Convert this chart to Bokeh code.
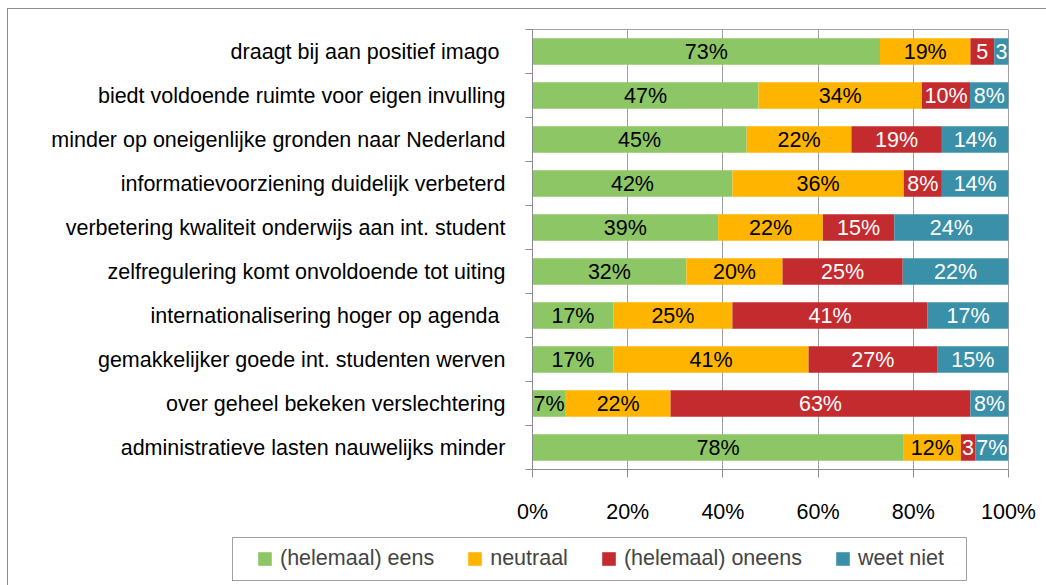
from bokeh.plotting import figure
from bokeh.layouts import column
from bokeh.models import (ColumnDataSource, Range1d, FixedTicker, Legend, LegendItem,
                          LabelSet)
from bokeh.core.properties import value
from bokeh.embed import file_html
from bokeh.resources import INLINE

categories = [
    "draagt bij aan positief imago ",
    "biedt voldoende ruimte voor eigen invulling",
    "minder op oneigenlijke gronden naar Nederland",
    "informatievoorziening duidelijk verbeterd",
    "verbetering kwaliteit onderwijs aan int. student",
    "zelfregulering komt onvoldoende tot uiting",
    "internationalisering hoger op agenda ",
    "gemakkelijker goede int. studenten werven",
    "over geheel bekeken verslechtering",
    "administratieve lasten nauwelijks minder",
]
series = ["(helemaal) eens", "neutraal", "(helemaal) oneens", "weet niet"]
eens = [73, 47, 45, 42, 39, 32, 17, 17, 7, 78]
neutraal = [19, 34, 22, 36, 22, 20, 25, 41, 22, 12]
oneens = [5, 10, 19, 8, 15, 25, 41, 27, 63, 3]
weet_niet = [3, 8, 14, 14, 24, 22, 17, 15, 8, 7]
x_ticks = [0, 20, 40, 60, 80, 100]

colors = ["#8DC665", "#FFB400", "#C42B2F", "#3A90A8"]
label_colors = ["black", "black", "white", "white"]
FONT = "Liberation Sans"
FS = "21.5px"
GRAY = "#8C8C8C"

n = len(categories)
ys = [n - i - 0.5 for i in range(n)]
vals = [eens, neutraal, oneens, weet_niet]
totals = [sum(v[i] for v in vals) for i in range(n)]

data = {"y": ys}
cum = [0.0] * n
for j, v in enumerate(vals):
    left = [cum[i] for i in range(n)]
    right = [cum[i] + 100.0 * v[i] / totals[i] for i in range(n)]
    data[f"l{j}"] = left
    data[f"r{j}"] = right
    data[f"m{j}"] = [(a + b) / 2 for a, b in zip(left, right)]
    data[f"t{j}"] = [f"{x}%" if x > 5 else f"{x}" for x in v]
    cum = right
src = ColumnDataSource(data)

W, H = 1046, 585
HM = 530
p = figure(width=W, height=HM, x_range=Range1d(0, 100), y_range=Range1d(0, n),
           output_backend="svg", toolbar_location=None, title=None,
           min_border_left=532, min_border_right=38, min_border_top=29,
           min_border_bottom=61,
           border_fill_color=None, background_fill_color="white")
p.frame_align = False

for j in range(4):
    p.hbar(y="y", left=f"l{j}", right=f"r{j}", height=0.6, source=src,
           fill_color=colors[j], line_color=None)
    p.add_layout(LabelSet(x=f"m{j}", y="y", text=f"t{j}", source=src,
                          text_align="center", text_baseline="middle",
                          text_font=value(FONT), text_font_size=FS,
                          text_color=label_colors[j]))

# axes
p.xaxis.ticker = FixedTicker(ticks=x_ticks)
p.xaxis.major_label_overrides = {t: f"{t}%" for t in x_ticks}
p.xaxis.minor_tick_line_color = None
p.xaxis.major_tick_out = 8
p.xaxis.major_tick_in = 0
p.xaxis.major_label_standoff = 22
p.xaxis.axis_line_color = GRAY
p.xaxis.major_tick_line_color = GRAY

p.yaxis.ticker = FixedTicker(ticks=ys, minor_ticks=list(range(n + 1)))
p.yaxis.major_label_overrides = {y: c for y, c in zip(ys, categories)}
p.yaxis.major_tick_out = 0
p.yaxis.major_tick_in = 0
p.yaxis.major_tick_line_color = None
p.yaxis.minor_tick_out = 7
p.yaxis.minor_tick_in = 0
p.yaxis.minor_tick_line_color = GRAY
p.yaxis.axis_line_color = GRAY
p.yaxis.major_label_standoff = 20

for ax in (p.xaxis, p.yaxis):
    ax.major_label_text_font = FONT
    ax.major_label_text_font_size = FS
    ax.major_label_text_color = "black"

p.xgrid.grid_line_color = "#A0A0A0"
p.ygrid.grid_line_color = None
p.outline_line_color = "#A0A0A0"

# legend strip: a second figure whose framed area is the legend box
q = figure(width=W, height=H - HM, x_range=Range1d(1000, 1001), y_range=Range1d(1000, 1001),
           output_backend="svg", toolbar_location=None, title=None,
           x_axis_location=None, y_axis_location=None,
           min_border_left=232, min_border_right=80, min_border_top=7, min_border_bottom=5,
           border_fill_color=None, background_fill_color="white",
           outline_line_color="#A0A0A0")
q.frame_align = False
q.grid.visible = False
leg_renderers = []
for j in range(4):
    leg_renderers.append(q.hbar(y="y", left=f"l{j}", right=f"r{j}", height=0.6, source=src,
                                fill_color=colors[j], line_color=None))

legend = Legend(items=[LegendItem(label=s, renderers=[r]) for s, r in zip(series, leg_renderers)],
                orientation="horizontal", location=(24, 9),
                glyph_width=17, glyph_height=17, label_standoff=7, spacing=32,
                padding=0, margin=0, border_line_color=None,
                background_fill_alpha=0,
                label_text_font=FONT, label_text_font_size=FS)
q.add_layout(legend)

layout = column(p, q, spacing=0)
layout.styles = {
    "background": (f"linear-gradient({GRAY},{GRAY}) 7px 8px / 1px 100% no-repeat, "
                   f"linear-gradient({GRAY},{GRAY}) 7px 8px / 100% 1px no-repeat, white"),
}

open("out.html", "w").write(file_html(layout, INLINE))
